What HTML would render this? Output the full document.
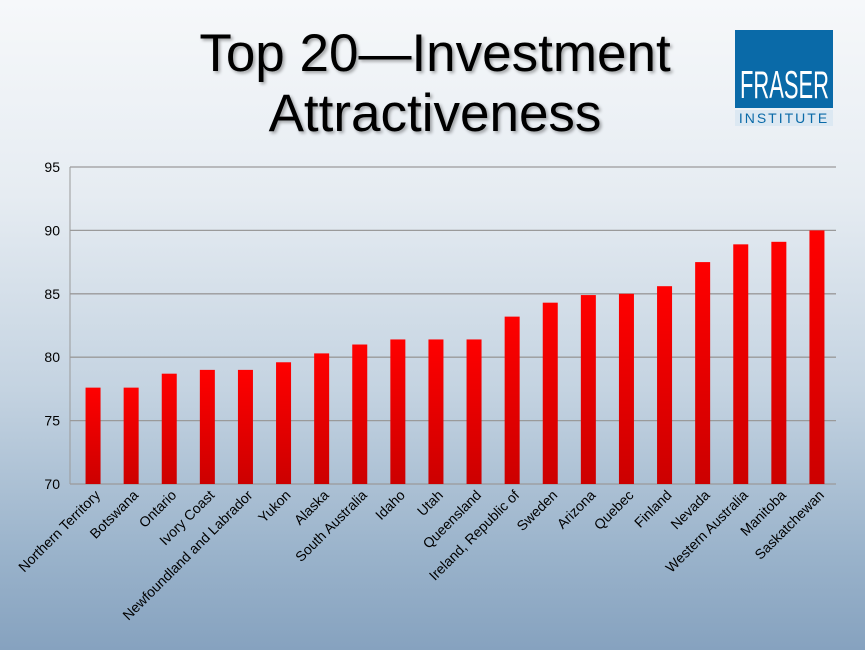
<!DOCTYPE html>
<html><head><meta charset="utf-8"><style>
body{margin:0;width:865px;height:650px;overflow:hidden;font-family:"Liberation Sans",sans-serif;}
#bg{position:absolute;left:0;top:0;width:865px;height:650px;background:linear-gradient(180deg,#f6f8fa 0%,#e6ecf2 30%,#c4d3e1 60%,#9ab3cb 85%,#86a2bf 100%);}
#title{position:absolute;left:100px;top:24px;width:670px;text-align:center;font-size:53px;line-height:60px;color:#000;text-shadow:2px 2px 3px rgba(0,0,0,0.35);}
#logo{position:absolute;left:735px;top:30px;width:98px;height:78px;background:#0a6aa8;}
#inst{position:absolute;left:735px;top:110px;width:98px;text-align:center;font-size:14px;color:#0a6aa8;letter-spacing:2px;background:#dce8f2;}
svg{position:absolute;left:0;top:0;}
</style></head><body>
<div id="bg"></div>
<div id="title">Top 20—Investment<br>Attractiveness</div>
<div id="logo"><svg width="98" height="78" style="position:absolute;left:0;top:0"><text x="5" y="68" textLength="89" lengthAdjust="spacingAndGlyphs" font-size="39" fill="#fff" font-family="Liberation Sans Narrow, Liberation Sans, sans-serif" transform="translate(0,0)" dy="-0">FRASER</text></svg></div>
<div id="inst">INSTITUTE</div>
<svg id="chart" width="865" height="650">
<defs><linearGradient id="bg1" x1="0" y1="0" x2="0" y2="1"><stop offset="0" stop-color="#ff0000"/><stop offset="1" stop-color="#cc0000"/></linearGradient></defs>
</svg>
<script>
const categories=["Northern Territory","Botswana","Ontario","Ivory Coast","Newfoundland and Labrador","Yukon","Alaska","South Australia","Idaho","Utah","Queensland","Ireland, Republic of","Sweden","Arizona","Quebec","Finland","Nevada","Western Australia","Manitoba","Saskatchewan"];
const values=[77.6,77.6,78.7,79.0,79.0,79.6,80.3,81.0,81.4,81.4,81.4,83.2,84.3,84.9,85.0,85.6,87.5,88.9,89.1,90.0];
const yTicks=[70,75,80,85,90,95];
const svg=document.getElementById('chart');
const NS='http://www.w3.org/2000/svg';
const x0=74,x1=836,yMin=70,yMax=95,py0=484,py1=167;
const band=(x1-x0)/categories.length;
function y(v){return py0-(v-yMin)/(yMax-yMin)*(py0-py1);}
function xc(i){return x0+band*(i+0.5);}
function mk(t,a){const e=document.createElementNS(NS,t);for(const k in a)e.setAttribute(k,a[k]);svg.appendChild(e);return e;}
yTicks.forEach(t=>{
  const l=mk('line',{x1:70,x2:x1,y1:y(t),y2:y(t),stroke:'#9a9a9a','stroke-width':1.3});
  
  
  const tx=mk('text',{x:60,y:y(t)+5,'text-anchor':'end','font-size':14,fill:'#000'});
  tx.textContent=t;
  
  
});
mk('line',{x1:70,x2:70,y1:py1,y2:py0,stroke:'#9a9a9a','stroke-width':1});
categories.forEach((c,i)=>{
  const r=mk('rect',{x:xc(i)-7.5,y:y(values[i]),width:15,height:py0-y(values[i]),fill:'url(#bg1)'});
  
  
  const ax=xc(i)+8, ay=496;
  const t=mk('text',{x:ax,y:ay,'text-anchor':'end','font-size':14,fill:'#000',transform:`rotate(-45 ${ax} ${ay})`});
  t.textContent=c;
  
  
});
</script>
</body></html>
